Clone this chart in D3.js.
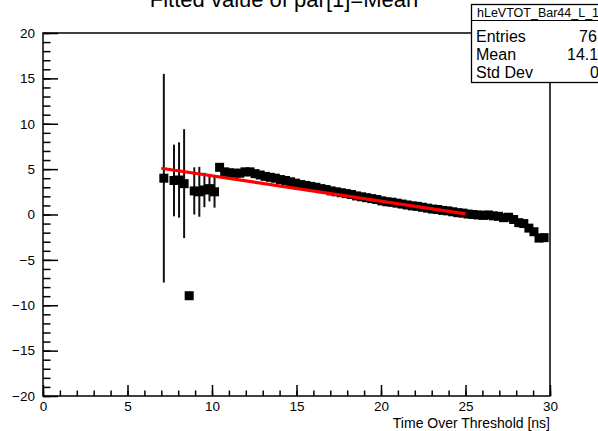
<!DOCTYPE html>
<html>
<head>
<meta charset="utf-8">
<script src="https://cdn.jsdelivr.net/npm/d3@7"></script>
<style>
  body { margin: 0; background: #fff; }
  text { font-family: "Liberation Sans", Arial, Helvetica, sans-serif; }
</style>
</head>
<body>
<div id="chart"></div>
<script>
var chart_width = 598
var chart_height = 431

// bin centers (ns), fitted mean per bin and its error
var tot = [7.15, 7.75, 8.05, 8.35, 8.65, 8.95, 9.25, 9.55, 9.85, 10.15,
  10.45, 10.75, 11.05, 11.35, 11.65, 11.95, 12.25, 12.55, 12.85, 13.15,
  13.45, 13.75, 14.05, 14.35, 14.65, 14.95, 15.25, 15.55, 15.85, 16.15,
  16.45, 16.75, 17.05, 17.35, 17.65, 17.95, 18.25, 18.55, 18.85, 19.15,
  19.45, 19.75, 20.05, 20.35, 20.65, 20.95, 21.25, 21.55, 21.85, 22.15,
  22.45, 22.75, 23.05, 23.35, 23.65, 23.95, 24.25, 24.55, 24.85, 25.15,
  25.45, 25.75, 26.05, 26.35, 26.65, 26.95, 27.25, 27.55, 27.85, 28.15,
  28.45, 28.75, 29.05, 29.35, 29.65]
var mean = [4.0, 3.75, 3.8, 3.4, -8.95, 2.6, 2.5, 2.7, 2.85, 2.5,
  5.2, 4.7, 4.6, 4.55, 4.55, 4.7, 4.7, 4.5, 4.35, 4.2,
  4.1, 4.0, 3.85, 3.75, 3.6, 3.45, 3.3, 3.2, 3.1, 3.0,
  2.85, 2.75, 2.6, 2.5, 2.4, 2.3, 2.2, 2.05, 1.95, 1.85,
  1.75, 1.65, 1.5, 1.4, 1.35, 1.25, 1.15, 1.05, 0.95, 0.9,
  0.8, 0.7, 0.6, 0.55, 0.45, 0.4, 0.3, 0.2, 0.15, 0.05,
  0.0, -0.05, -0.1, -0.05, -0.15, -0.2, -0.35, -0.3, -0.55, -0.9,
  -1.0, -1.5, -1.9, -2.6, -2.55]
var err = [11.5, 3.95, 4.15, 6.0, 0, 2.6, 2.75, 1.9, 1.4, 1.75,
  0.25, 0.25, 0.25, 0.25, 0.25, 0.25, 0.25, 0.25, 0.25, 0.25,
  0.25, 0.25, 0.25, 0.25, 0.25, 0.25, 0.25, 0.25, 0.25, 0.25,
  0.25, 0.25, 0.25, 0.25, 0.25, 0.25, 0.25, 0.25, 0.25, 0.25,
  0.25, 0.25, 0.25, 0.25, 0.25, 0.25, 0.25, 0.25, 0.25, 0.25,
  0.25, 0.25, 0.25, 0.25, 0.25, 0.25, 0.25, 0.25, 0.25, 0.25,
  0.25, 0.25, 0.25, 0.25, 0.25, 0.25, 0.25, 0.25, 0.25, 0.25,
  0.25, 0.25, 0.25, 0.25, 0.25]

// linear fit: p0 + p1*x over [fit_min, fit_max]
var fit_p0 = 7.05
var fit_p1 = -0.279
var fit_min = 7
var fit_max = 25

var x_major = [0, 5, 10, 15, 20, 25, 30]
var y_major = [-20, -15, -10, -5, 0, 5, 10, 15, 20]

var title_text = 'Fitted value of par[1]=Mean'
var x_title = 'Time Over Threshold [ns]'
var stat_name = 'hLeVTOT_Bar44_L_1'
var stat_labels = ['Entries', 'Mean', 'Std Dev']
var stat_values = ['76', '14.1', '0']

var data = tot.map(function(t, i) {
	return { x: t, y: mean[i], e: err[i] }
})

var svg = d3.select('#chart')
	.append('svg')
	.attr('width', chart_width)
	.attr('height', chart_height)
	.style('display', 'block')

svg.append('rect')
	.attr('width', chart_width)
	.attr('height', chart_height)
	.attr('fill', '#fff')

var x_scale = d3.scaleLinear().domain([0, 30]).range([43, 550])
var y_scale = d3.scaleLinear().domain([-20, 20]).range([396, 33])

// title (cut by the top of the canvas)
svg.append('text')
	.attr('x', 284)
	.attr('y', 7)
	.attr('text-anchor', 'middle')
	.attr('font-size', 22)
	.text(title_text)

// frame
svg.append('rect')
	.attr('x', x_scale(0))
	.attr('y', y_scale(20))
	.attr('width', x_scale(30) - x_scale(0))
	.attr('height', y_scale(-20) - y_scale(20))
	.attr('fill', 'none')
	.attr('stroke', '#000')
	.attr('stroke-width', 1.5)

// x axis, ticks pointing inwards
var x_minor = d3.axisBottom(x_scale).ticks(30).tickSize(-5.5).tickFormat('')
svg.append('g')
	.attr('class', 'x-minor')
	.attr('transform', 'translate(0, ' + y_scale(-20) + ')')
	.call(x_minor)

var x_axis = d3.axisBottom(x_scale).tickValues(x_major).tickSize(-11).tickPadding(5)
svg.append('g')
	.attr('class', 'x-axis')
	.attr('transform', 'translate(0, ' + y_scale(-20) + ')')
	.call(x_axis)

var y_minor = d3.axisLeft(y_scale).ticks(40).tickSize(-7.5).tickFormat('')
svg.append('g')
	.attr('class', 'y-minor')
	.attr('transform', 'translate(' + x_scale(0) + ', 0)')
	.call(y_minor)

var y_axis = d3.axisLeft(y_scale).tickValues(y_major).tickSize(-15).tickPadding(8)
svg.append('g')
	.attr('class', 'y-axis')
	.attr('transform', 'translate(' + x_scale(0) + ', 0)')
	.call(y_axis)

svg.selectAll('.domain').remove()
svg.selectAll('.tick line').attr('stroke', '#000').attr('stroke-width', 1.5)
svg.selectAll('.tick text').attr('font-size', 13.5).attr('fill', '#000')
	.style('font-family', '"Liberation Sans", Arial, Helvetica, sans-serif')

svg.append('text')
	.attr('x', x_scale(30))
	.attr('y', 428)
	.attr('text-anchor', 'end')
	.attr('font-size', 14)
	.text(x_title)

// error bars
svg.append('g')
	.selectAll('line')
	.data(data.filter(d => d.e > 0))
	.enter()
	.append('line')
	.attr('x1', d => x_scale(d.x))
	.attr('x2', d => x_scale(d.x))
	.attr('y1', d => y_scale(d.y - d.e))
	.attr('y2', d => y_scale(d.y + d.e))
	.attr('stroke', '#111')
	.attr('stroke-width', 2)

// square markers
svg.append('g')
	.selectAll('rect')
	.data(data)
	.enter()
	.append('rect')
	.attr('x', d => x_scale(d.x) - 4.5)
	.attr('y', d => y_scale(d.y) - 4.5)
	.attr('width', 9)
	.attr('height', 9)
	.attr('fill', '#000')

// fit line
var fit_line = d3.line()
	.x(d => x_scale(d))
	.y(d => y_scale(fit_p0 + fit_p1 * d))

svg.append('path')
	.datum([fit_min, fit_max])
	.attr('fill', 'none')
	.attr('stroke', '#ff0000')
	.attr('stroke-width', 3.2)
	.attr('d', fit_line)

// stats box
var box = svg.append('g')
box.append('rect')
	.attr('x', 471.5)
	.attr('y', 4.5)
	.attr('width', 140)
	.attr('height', 78)
	.attr('fill', '#fff')
	.attr('stroke', '#000')
	.attr('stroke-width', 1.3)
box.append('line')
	.attr('x1', 471.5).attr('x2', 611.5)
	.attr('y1', 20.5).attr('y2', 20.5)
	.attr('stroke', '#000')
	.attr('stroke-width', 1.2)
box.append('text')
	.attr('x', 477)
	.attr('y', 16.5)
	.attr('font-size', 12.5)
	.text(stat_name)

var value_x = [579, 567, 590]
stat_labels.forEach(function(l, i) {
	box.append('text')
		.attr('x', 476)
		.attr('y', 42 + i * 18)
		.attr('font-size', 16)
		.text(l)
	box.append('text')
		.attr('x', value_x[i])
		.attr('y', 42 + i * 18)
		.attr('font-size', 16)
		.text(stat_values[i])
})
</script>
</body>
</html>
